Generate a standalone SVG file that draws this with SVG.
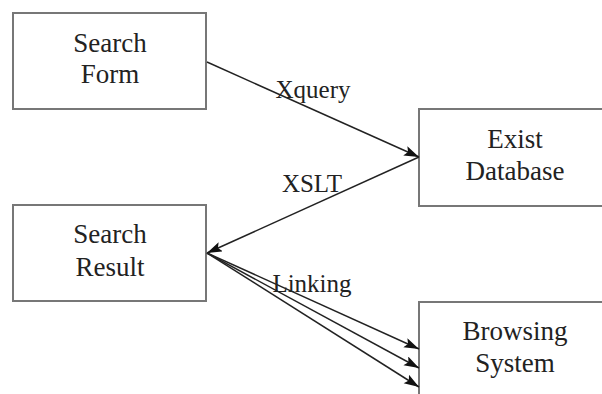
<svg xmlns="http://www.w3.org/2000/svg" width="602" height="394" viewBox="0 0 602 394">
<style>
.box{fill:#fff;stroke:#777;stroke-width:2}
.c{stroke:#222;stroke-width:1.5;fill:none;marker-end:url(#ah)}
</style>
<defs>
<marker id="ah" markerUnits="userSpaceOnUse" markerWidth="16" markerHeight="12" refX="15" refY="5" orient="auto">
<path d="M0,0 L15,5 L0,10 L3,5 Z" fill="#111"/>
</marker>
</defs>
<rect width="602" height="394" fill="#fff"/>
<g font-family="Liberation Serif, serif" font-size="27" fill="#222" text-anchor="middle">
<g id="search-form">
<rect class="box" x="13" y="13" width="193" height="96"/>
<text x="110" y="52">Search</text>
<text x="110" y="83">Form</text>
</g>
<g id="exist-database">
<rect class="box" x="419" y="109" width="200" height="97"/>
<text x="515" y="148">Exist</text>
<text x="515" y="180">Database</text>
</g>
<g id="search-result">
<rect class="box" x="13" y="205" width="193" height="96"/>
<text x="110" y="243">Search</text>
<text x="110" y="276">Result</text>
</g>
<g id="browsing-system">
<rect class="box" x="419" y="302" width="200" height="110"/>
<text x="515" y="340">Browsing</text>
<text x="515" y="372">System</text>
</g>
<g id="connectors" font-size="25">
<line class="c" x1="207" y1="62" x2="419" y2="157"/>
<text x="313" y="98">Xquery</text>
<line class="c" x1="419" y1="157" x2="207" y2="253"/>
<text x="312" y="192">XSLT</text>
<line class="c" x1="207" y1="253" x2="419" y2="349"/>
<line class="c" x1="207" y1="253" x2="419" y2="368"/>
<line class="c" x1="207" y1="253" x2="419" y2="387"/>
<text x="312" y="292">Linking</text>
</g>
</g>
</svg>
